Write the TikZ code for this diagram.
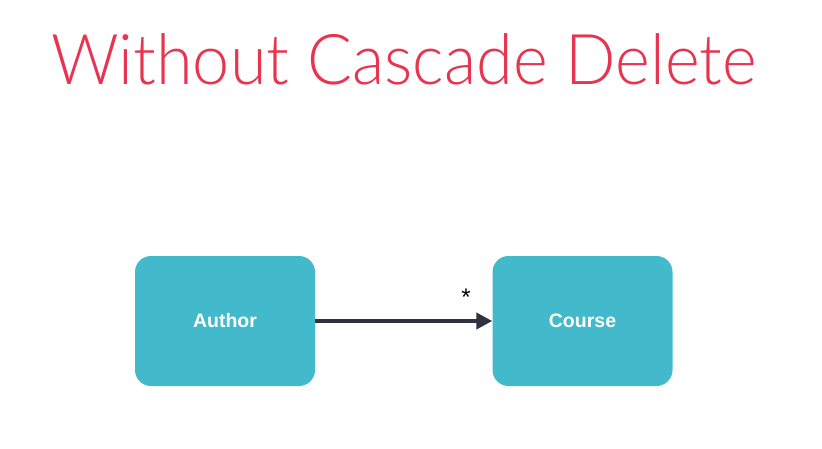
\documentclass[tikz,border=0pt]{standalone}
\usepackage{fontspec}
\newfontfamily\titlefont{Lato Light}
\newfontfamily\boxfont{Liberation Sans}
\usetikzlibrary{arrows.meta}
\definecolor{titlered}{HTML}{E83450}
\definecolor{teal}{HTML}{42BACB}
\definecolor{arrowdark}{HTML}{2F3240}
\tikzset{
  entity/.style={fill=teal, draw=none, rounded corners=16pt, minimum width=180pt, minimum height=130pt, inner sep=0pt, text=white, font=\boxfont\bfseries\fontsize{19.5}{22}\selectfont},
  assoc/.style={draw=arrowdark, line width=4pt, -{Triangle[length=16pt,width=16pt]}}
}
\begin{document}
\begin{tikzpicture}[x=1pt,y=-1pt]
\useasboundingbox[fill=white] (0,0) rectangle (822,448);
\node[anchor=base west, text=titlered, font=\titlefont\fontsize{70}{80}\selectfont, inner sep=0pt] (title) at (51,84) {\scalebox{0.95}[1]{Without Cascade Delete}};
\node[entity] (author) at (225,321) {Author};
\node[entity] (course) at (582.5,321) {Course};
\draw[assoc] (author.east) -- (course.west);
\node[font=\boxfont\fontsize{24}{26}\selectfont, inner sep=0pt] (star) at (466,297) {*};
\end{tikzpicture}
\end{document}
